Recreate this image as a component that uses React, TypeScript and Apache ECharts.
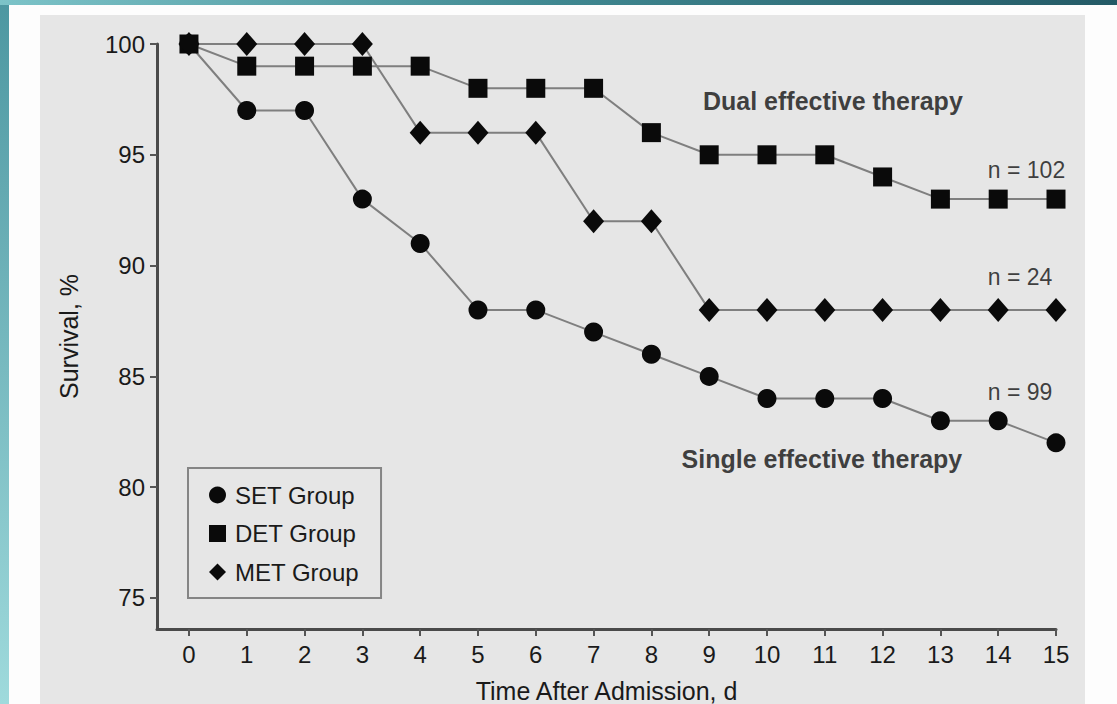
import React, { useEffect, useRef } from "react";
import * as echarts from "echarts";

const days = [0, 1, 2, 3, 4, 5, 6, 7, 8, 9, 10, 11, 12, 13, 14, 15];
const setGroup = [100, 97, 97, 93, 91, 88, 88, 87, 86, 85, 84, 84, 84, 83, 83, 82];
const detGroup = [100, 99, 99, 99, 99, 98, 98, 98, 96, 95, 95, 95, 94, 93, 93, 93];
const metGroup = [100, 100, 100, 100, 96, 96, 96, 92, 92, 88, 88, 88, 88, 88, 88, 88];
const yTicks = [75, 80, 85, 90, 95, 100];
const seriesNames = ["SET Group", "DET Group", "MET Group"];

const noteTexts = ["Dual effective therapy", "n = 102", "n = 24", "n = 99", "Single effective therapy"];
const noteX = [11.14, 13.82, 13.82, 13.82, 10.95];
const noteY = [97.43, 94.31, 89.49, 84.3, 81.27];
const noteBold = [true, false, false, false, true];
const noteAlign = ["center", "left", "left", "left", "center"];

const FONT = "'Liberation Sans', Arial, Helvetica, sans-serif";

export default function App() {
  const ref = useRef<HTMLDivElement>(null);
  useEffect(() => {
    if (!ref.current) return;
    const chart = echarts.init(ref.current, undefined, { renderer: "svg" });
    const mk = (vals: number[]) => vals.map((v, i) => [days[i], v]);
    const lineSeries = (name: string, vals: number[], symbol: string, size: any) => ({
      type: "line",
      name,
      data: mk(vals),
      symbol,
      symbolSize: size,
      showAllSymbol: true,
      clip: false,
      lineStyle: { color: "#7f7f7f", width: 2 },
      itemStyle: { color: "#0a0a0a" },
      emphasis: { disabled: true },
      z: 3,
    });
    chart.setOption({
      animation: false,
      backgroundColor: {
        type: "linear",
        x: 0,
        y: 0,
        x2: 0,
        y2: 1,
        colorStops: [
          { offset: 0, color: "#4d97a1" },
          { offset: 1, color: "#9fdadc" },
        ],
      },
      textStyle: { fontFamily: FONT },
      graphic: [
        {
          type: "rect",
          silent: true,
          z: -10,
          shape: { x: 0, y: 0, width: 1117, height: 5 },
          style: {
            fill: {
              type: "linear",
              x: 0,
              y: 0,
              x2: 1,
              y2: 0,
              colorStops: [
                { offset: 0, color: "#7cc3c8" },
                { offset: 0.5, color: "#3f8790" },
                { offset: 1, color: "#245a66" },
              ],
            },
          },
        },
        {
          type: "rect",
          silent: true,
          z: -9,
          shape: { x: 9, y: 5, width: 1108, height: 699 },
          style: { fill: "#fdfdfd" },
        },
        {
          type: "rect",
          silent: true,
          z: -8,
          shape: { x: 40, y: 15, width: 1045, height: 689 },
          style: { fill: "#e6e6e6" },
        },
      ],
      grid: {
        left: 157,
        top: 44,
        width: 899,
        height: 585,
        containLabel: false,
        outerBoundsMode: "none",
      },
      xAxis: {
        type: "value",
        min: -0.553,
        max: 15,
        name: "Time After Admission, d",
        nameLocation: "middle",
        nameGap: 49,
        nameTextStyle: { fontSize: 25, color: "#1a1a1a", fontFamily: FONT },
        axisLine: { show: true, onZero: false, lineStyle: { color: "#4a4a4a", width: 3 } },
        axisTick: { show: true, customValues: days, length: 7, lineStyle: { color: "#555", width: 2 } },
        axisLabel: { customValues: days, fontSize: 24, color: "#1a1a1a", margin: 13, fontFamily: FONT },
        splitLine: { show: false },
      },
      yAxis: {
        type: "value",
        min: 73.6,
        max: 100,
        name: "Survival, %",
        nameLocation: "middle",
        nameRotate: 90,
        nameGap: 76,
        nameTextStyle: { fontSize: 25, color: "#1a1a1a", fontFamily: FONT },
        axisLine: { show: true, onZero: false, lineStyle: { color: "#4a4a4a", width: 3 } },
        axisTick: { show: true, customValues: yTicks, length: 7, lineStyle: { color: "#555", width: 2 } },
        axisLabel: { customValues: yTicks, fontSize: 24, color: "#1a1a1a", margin: 12, fontFamily: FONT },
        splitLine: { show: false },
      },
      legend: {
        orient: "vertical",
        left: 188,
        top: 468,
        padding: [15, 22, 14, 21],
        itemGap: 14.5,
        itemWidth: 17,
        itemHeight: 17,
        selectedMode: false,
        borderColor: "#858585",
        borderWidth: 2,
        backgroundColor: "#e6e6e6",
        textStyle: { fontSize: 24, color: "#1a1a1a", lineHeight: 24, padding: [0, 0, 0, 4], fontFamily: FONT },
        data: [
          { name: seriesNames[0], icon: "circle" },
          { name: seriesNames[1], icon: "rect" },
          { name: seriesNames[2], icon: "diamond" },
        ],
      },
      series: [
        lineSeries(seriesNames[0], setGroup, "circle", 19),
        lineSeries(seriesNames[1], detGroup, "rect", 19),
        lineSeries(seriesNames[2], metGroup, "diamond", [21, 24]),
        {
          type: "scatter",
          name: "notes",
          silent: true,
          clip: false,
          symbolSize: 1,
          itemStyle: { color: "rgba(0,0,0,0)" },
          data: noteTexts.map((t, i) => ({
            value: [noteX[i], noteY[i]],
            name: t,
            label: {
              show: true,
              position: "inside",
              formatter: t,
              align: noteAlign[i],
              verticalAlign: "middle",
              fontSize: noteBold[i] ? 25 : 23,
              fontWeight: noteBold[i] ? "bold" : "normal",
              color: "#111",
              fontFamily: FONT,
            },
          })),
        },
      ],
    });
    return () => chart.dispose();
  }, []);
  return (
    <div
      ref={ref}
      style={{ position: "fixed", left: 0, top: 0, width: 1117, height: 704 }}
    />
  );
}
